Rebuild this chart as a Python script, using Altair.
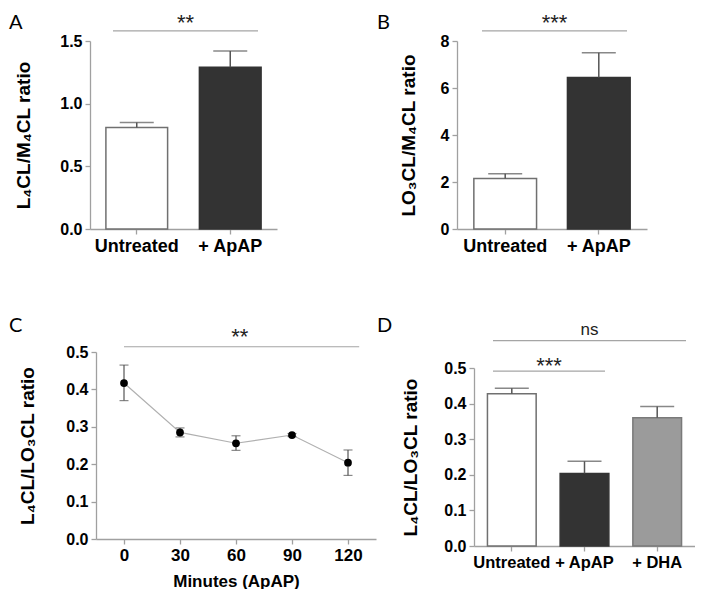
import altair as alt
import pandas as pd

FONT = "Liberation Sans"
LETTER_FONT = "Lato"

# ---------------- data ----------------
a_groups = ["Untreated", "+ ApAP"]
a_means = [0.81, 1.29]
a_sem = [0.04, 0.13]

b_groups = ["Untreated", "+ ApAP"]
b_means = [2.15, 6.45]
b_sem = [0.20, 1.05]

c_minutes = [0, 30, 60, 90, 120]
c_means = [0.417, 0.285, 0.256, 0.278, 0.204]
c_lower = [0.370, 0.273, 0.237, 0.274, 0.170]
c_upper = [0.465, 0.297, 0.276, 0.282, 0.238]

d_groups = ["Untreated", "+ ApAP", "+ DHA"]
d_means = [0.428, 0.204, 0.360]
d_sem = [0.015, 0.034, 0.032]

fills3 = ["#ffffff", "#333333", "#9b9b9b"]
strokes3 = ["#707070", "#333333", "#7a7a7a"]

ERR = "#555555"
SIG = "#a5a5a5"


def y_axis(title, values, fmt, tpad, offset=0):
    return alt.Axis(title=title, values=values, format=fmt, titlePadding=tpad, offset=offset,
                    labelFontSize=16, titleFontSize=19, labelPadding=3, labelOverlap=False)


def letter_layer(letter, dx, dy):
    return alt.Chart(pd.DataFrame({"t": [letter]})).mark_text(
        font=LETTER_FONT, fontSize=20, align="left", baseline="middle", color="black"
    ).encode(x=alt.value(dx), y=alt.value(dy), text="t:N")


def sig_layers(ys, ylab, x1, x2, label, size, yscale, yax):
    rule = alt.Chart(pd.DataFrame({"y": [ys]})).mark_rule(color=SIG, strokeWidth=1.2).encode(
        x=alt.value(x1), x2=alt.value(x2), y=alt.Y("y:Q", scale=yscale, axis=yax)
    )
    txt = alt.Chart(pd.DataFrame({"y": [ylab], "t": [label]})).mark_text(
        font=FONT, fontSize=size, align="center", baseline="middle", color="#222222"
    ).encode(x=alt.value((x1 + x2) / 2), y=alt.Y("y:Q", scale=yscale, axis=yax), text="t:N")
    return [rule, txt]


def bar_panel(groups, means, sems, ydom, yvals, yfmt, ytitle, tpad, w, h, pin, pout,
              xlab_size, letter, ldx, ldy, sigs, yrange=None):
    n = len(groups)
    df = pd.DataFrame({"g": groups, "m": means, "u": [m + s for m, s in zip(means, sems)]})
    xs = alt.Scale(domain=groups, paddingInner=pin, paddingOuter=pout)
    if yrange is None:
        ys = alt.Scale(domain=ydom, nice=False, zero=True)
    else:
        ys = alt.Scale(domain=ydom, nice=False, zero=True, range=yrange)
    yax = y_axis(ytitle, yvals, yfmt, tpad)
    xax = alt.Axis(title=None, labelAngle=0, labelFontSize=xlab_size, labelPadding=3)
    base = alt.Chart(df)
    bars = base.mark_bar(strokeWidth=1.5).encode(
        x=alt.X("g:N", scale=xs, sort=groups, axis=xax),
        y=alt.Y("m:Q", scale=ys, axis=yax),
        fill=alt.Fill("g:N", scale=alt.Scale(domain=groups, range=fills3[:n]), legend=None),
        stroke=alt.Stroke("g:N", scale=alt.Scale(domain=groups, range=strokes3[:n]), legend=None),
    )
    err = base.mark_rule(color=ERR, strokeWidth=1.5).encode(
        x=alt.X("g:N", scale=xs, sort=groups, axis=xax),
        y=alt.Y("m:Q", scale=ys, axis=yax), y2="u:Q")
    caps = base.mark_tick(color=ERR, thickness=1.5, size=34).encode(
        x=alt.X("g:N", scale=xs, sort=groups, axis=xax),
        y=alt.Y("u:Q", scale=ys, axis=yax))
    layers = [bars, err, caps]
    for s in sigs:
        layers += sig_layers(*s, yscale=ys, yax=yax)
    layers.append(letter_layer(letter, ldx, ldy))
    return alt.layer(*layers).properties(width=w, height=h)


A = bar_panel(a_groups, a_means, a_sem, [0, 1.5], [0, 0.5, 1.0, 1.5], ".1f",
              "L₄CL/M₄CL ratio", 26, 187, 188, 0.34, 0.17, 18, "A", -81, -18,
              [(1.58, 1.644, 23, 168, "**", 22)])
B = bar_panel(b_groups, b_means, b_sem, [0, 8], [0, 2, 4, 6, 8], "d",
              "LO₃CL/M₄CL ratio", 22, 190, 188, 0.33, 0.18, 18, "B", -80, -18,
              [(8.43, 8.766, 25, 170, "***", 22)])
D = bar_panel(d_groups, d_means, d_sem, [0, 0.5], [0, 0.1, 0.2, 0.3, 0.4, 0.5], ".1f",
              "L₄CL/LO₃CL ratio", 23, 221, 194, 0.33, 0.185, 16.5, "D", -97, -26,
              [(0.577, 0.608, 19, 212, "ns", 17), (0.491, 0.507, 19, 131, "***", 22)],
              yrange=[194, 16])

# ---------------- panel C ----------------
cdf = pd.DataFrame({"t": c_minutes, "m": c_means, "lo": c_lower, "hi": c_upper})
cx = alt.Scale(domain=[-15, 135], nice=False, range=[6, 286])
cy = alt.Scale(domain=[0, 0.5], nice=False)
cxax = alt.Axis(title="Minutes (ApAP)", values=c_minutes, format="d", labelFontSize=17,
                titleFontSize=17, labelPadding=3, titlePadding=10, labelOverlap=False)
cyax = y_axis("L₄CL/LO₃CL ratio", [0, 0.1, 0.2, 0.3, 0.4, 0.5], ".1f", 28, offset=-6)
cbase = alt.Chart(cdf)
c_line = cbase.mark_line(color="#b0b0b0", strokeWidth=1.2).encode(
    x=alt.X("t:Q", scale=cx, axis=cxax), y=alt.Y("m:Q", scale=cy, axis=cyax))
c_err = cbase.mark_rule(color=ERR, strokeWidth=1.2).encode(
    x=alt.X("t:Q", scale=cx, axis=cxax), y=alt.Y("lo:Q", scale=cy, axis=cyax), y2="hi:Q")
c_cap_lo = cbase.mark_tick(color=ERR, thickness=1.2, size=9, orient="horizontal").encode(
    x=alt.X("t:Q", scale=cx, axis=cxax), y=alt.Y("lo:Q", scale=cy, axis=cyax))
c_cap_hi = cbase.mark_tick(color=ERR, thickness=1.2, size=9, orient="horizontal").encode(
    x=alt.X("t:Q", scale=cx, axis=cxax), y=alt.Y("hi:Q", scale=cy, axis=cyax))
c_pts = cbase.mark_point(filled=True, size=60, color="black", opacity=1).encode(
    x=alt.X("t:Q", scale=cx, axis=cxax), y=alt.Y("m:Q", scale=cy, axis=cyax))
c_sig_rule = alt.Chart(pd.DataFrame({"a": [0], "b": [126], "y": [0.514]})).mark_rule(
    color=SIG, strokeWidth=1.2).encode(
    x=alt.X("a:Q", scale=cx, axis=cxax), x2="b:Q", y=alt.Y("y:Q", scale=cy, axis=cyax))
c_sig_txt = alt.Chart(pd.DataFrame({"x": [62], "y": [0.541], "t": ["**"]})).mark_text(
    font=FONT, fontSize=22, align="center", baseline="middle", color="#222222").encode(
    x=alt.X("x:Q", scale=cx, axis=cxax), y=alt.Y("y:Q", scale=cy, axis=cyax), text="t:N")
C = alt.layer(c_line, c_err, c_cap_lo, c_cap_hi, c_pts, c_sig_rule, c_sig_txt,
              letter_layer("C", -81, -26)).properties(width=286, height=187)

row1 = alt.hconcat(A, B, spacing=100).resolve_scale(fill="independent", stroke="independent")
row2 = alt.hconcat(C, D, spacing=1).resolve_scale(fill="independent", stroke="independent")
chart = alt.vconcat(row1, row2, spacing=61).resolve_scale(
    fill="independent", stroke="independent"
).properties(
    padding={"left": 1, "top": 3, "right": 0, "bottom": 0}
).configure_axis(
    grid=False, domainColor="#a0a0a0", tickColor="#a0a0a0", domainWidth=1.3, tickWidth=1.3,
    tickSize=5, labelFont=FONT, labelFontWeight="bold", labelColor="black",
    titleFont=FONT, titleFontWeight="bold", titleColor="black"
).configure_view(strokeWidth=0)

chart.save("out.html", embed_options={"renderer": "svg", "actions": False})
